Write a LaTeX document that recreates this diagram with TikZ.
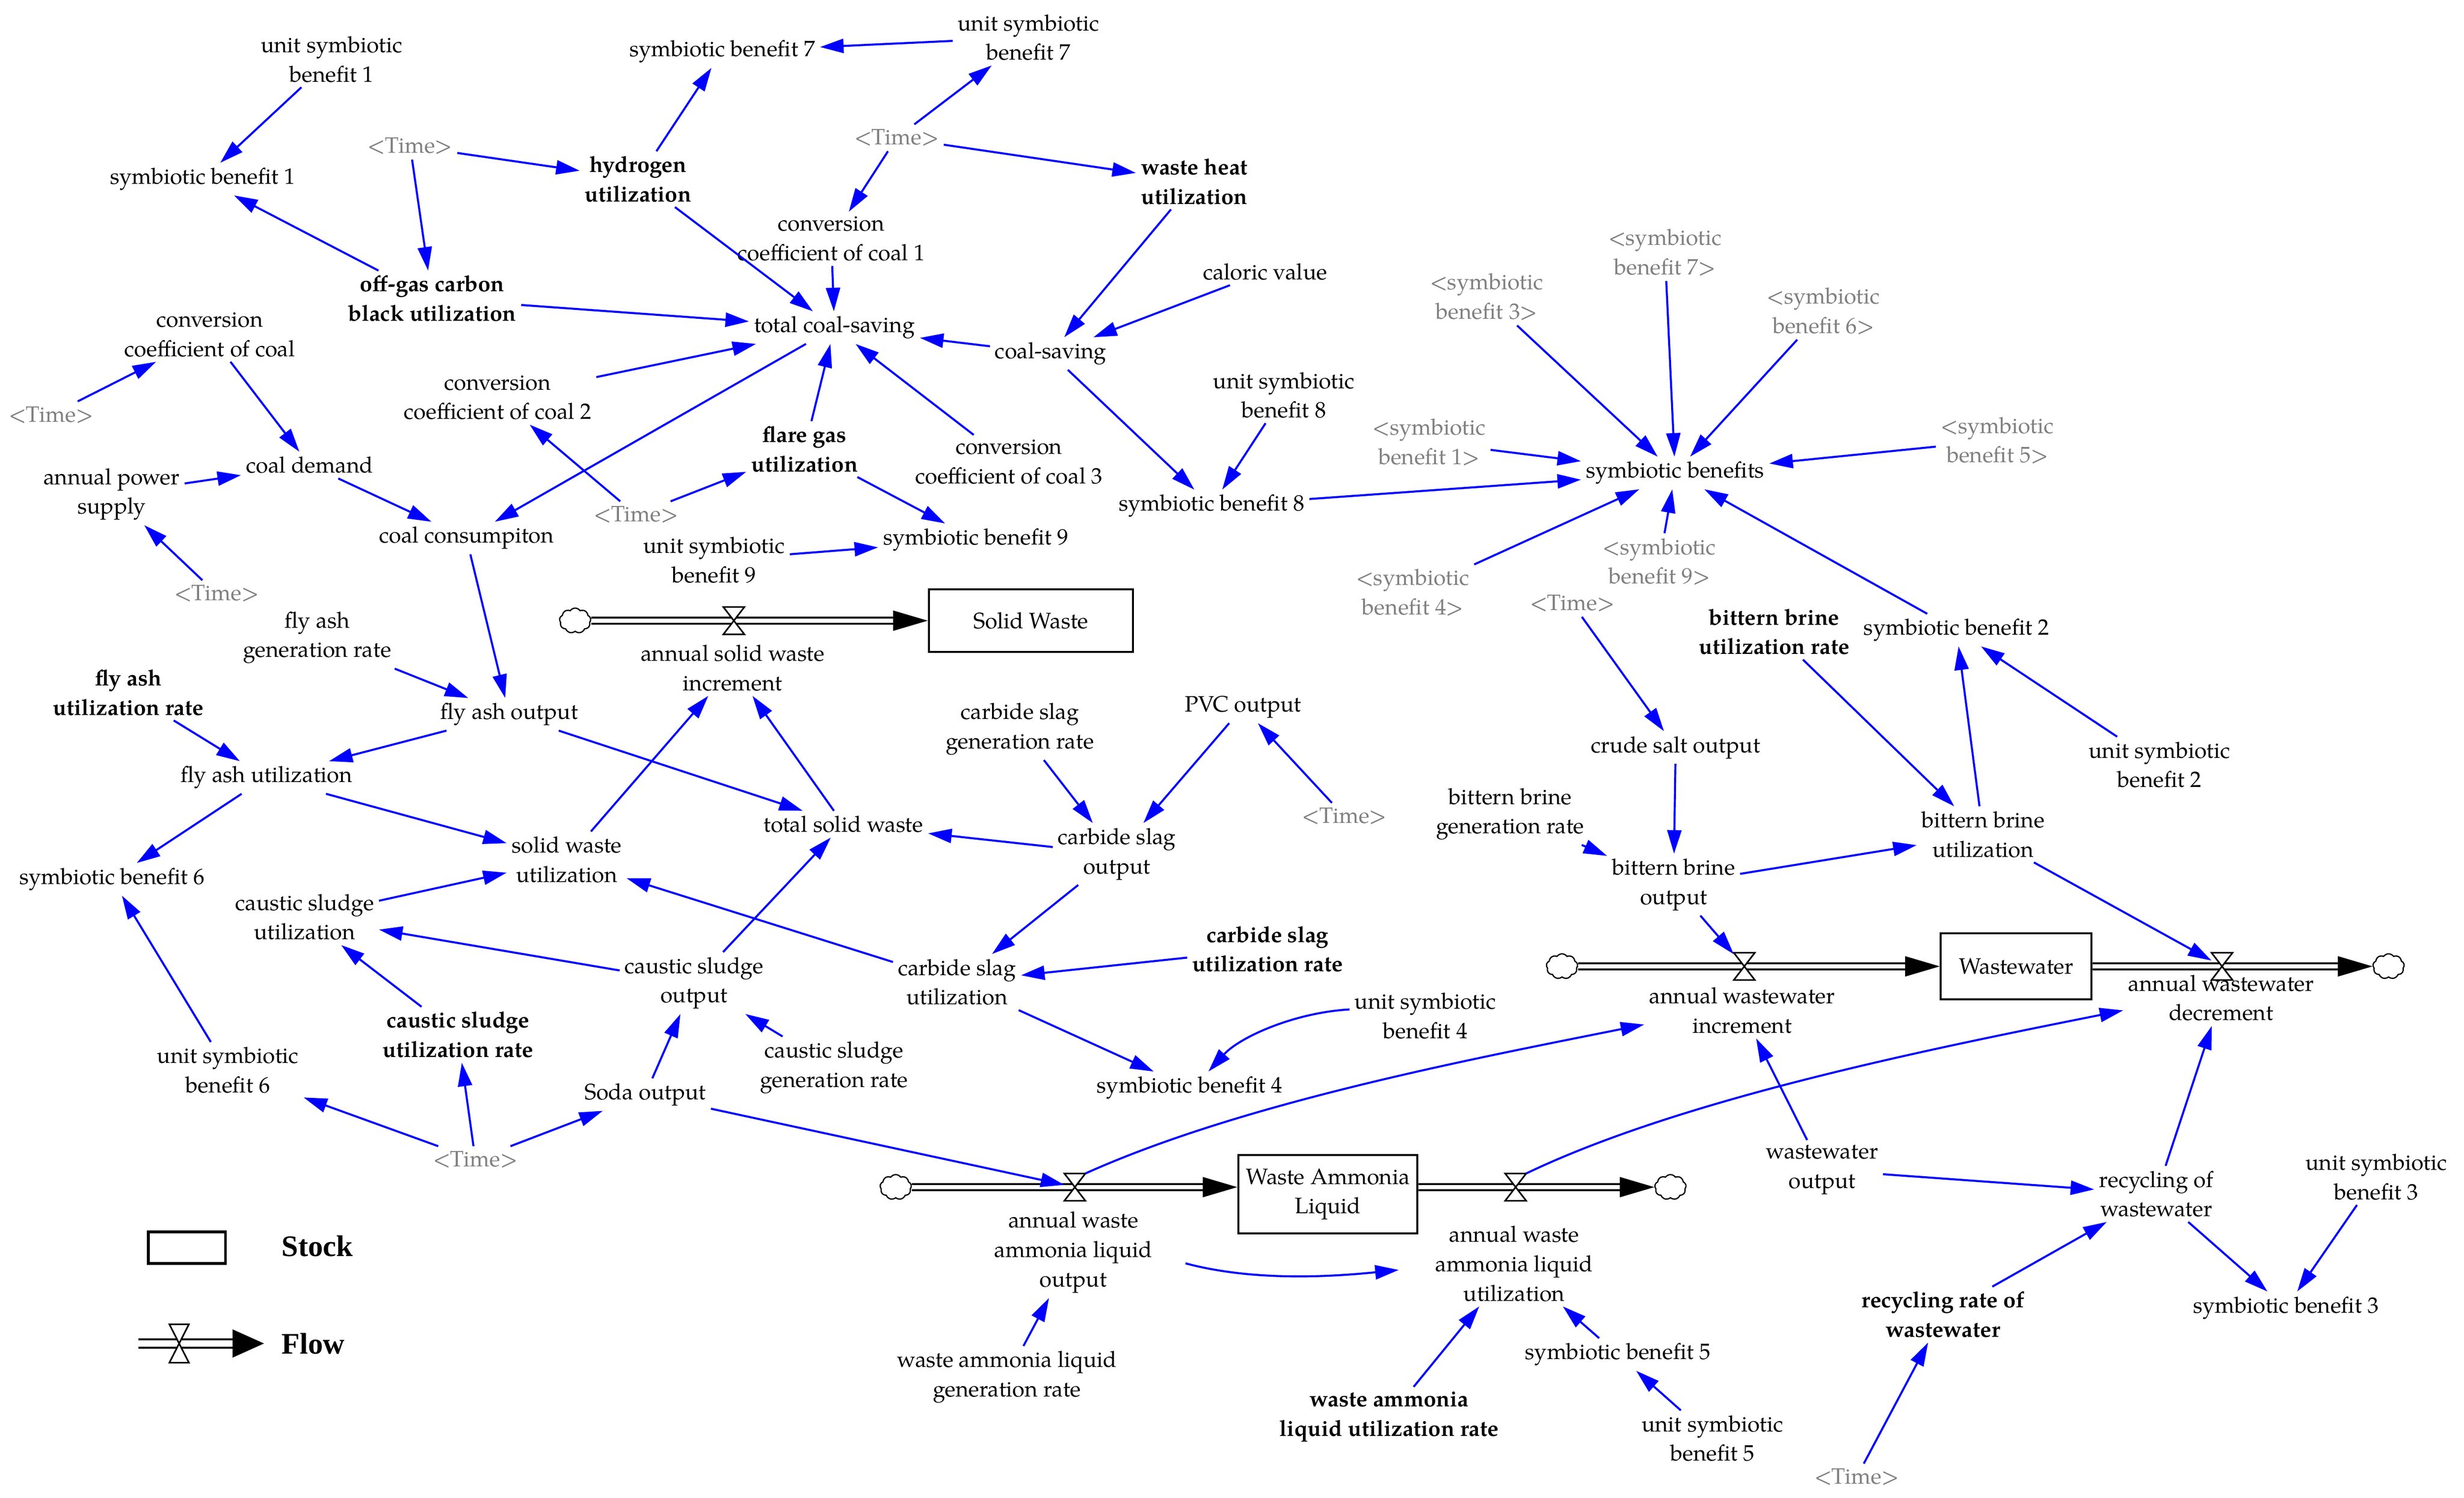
\documentclass[tikz,border=0pt]{standalone}
\usepackage{fontspec}
\setmainfont{TeX Gyre Pagella}
\newfontfamily\legendfont{Liberation Serif}
\usetikzlibrary{arrows.meta,shapes.symbols,calc}
\definecolor{linkblue}{RGB}{0,0,255}
\definecolor{shadowgray}{RGB}{128,128,128}
\newcommand\sdvalve[1]{\draw[line width=1pt,fill=white] (#1.north west) -- (#1.north east) -- (#1.south west) -- (#1.south east) -- cycle;}
\begin{document}
\begin{tikzpicture}[x=1pt,y=-1pt,
  var/.style={font=\fontsize{14.2}{18.7}\selectfont, align=center, inner sep=3pt},
  bvar/.style={var, font=\fontsize{14.2}{18.7}\selectfont\bfseries},
  gvar/.style={var, text=shadowgray},
  link/.style={draw=linkblue, line width=1.3pt, -{Triangle[length=15pt,width=9pt]}},
  stock/.style={draw, line width=1.3pt, font=\fontsize{14.2}{18.7}\selectfont, align=center, inner sep=0pt},
  pipe/.style={draw, double, line width=1.2pt, double distance=2.7pt},
  valve/.style={minimum width=13pt, minimum height=17pt, inner sep=0pt},
  sdcloud/.style={cloud, cloud puffs=9, cloud puff arc=110, cloud ignores aspect, draw, line width=0.8pt, minimum width=20pt, minimum height=16pt, inner sep=0pt},
]
\useasboundingbox (0,0) rectangle (1568,953.2);
\fill[white] (0,0) rectangle (1568,953.2);

% ---------- variables ----------
\node[var] (usb1) at (211,37.7) {unit symbiotic\\benefit 1};
\node[var] (sb1) at (129,114) {symbiotic benefit 1};
\node[gvar] (tA) at (261,93) {<Time>};
\node[bvar] (hyd) at (406,114) {hydrogen\\utilization};
\node[var] (sb7) at (459.6,32.8) {symbiotic benefit 7};
\node[var] (usb7) at (654.5,23.8) {unit symbiotic\\benefit 7};
\node[gvar] (tB) at (570.6,87.7) {<Time>};
\node[bvar] (wh) at (760,115.5) {waste heat\\utilization};
\node[var] (cc1) at (529,152) {conversion\\coefficient of coal 1};
\node[bvar] (og) at (275,190) {off-gas carbon\\black utilization};
\node[var] (tcs) at (531,208.5) {total coal-saving};
\node[var] (cc) at (133.5,213) {conversion\\coefficient of coal};
\node[gvar] (tC) at (32.5,264) {<Time>};
\node[var] (cal) at (805,173) {caloric value};
\node[var] (cs) at (668.6,225) {coal-saving};
\node[var] (cc2) at (316.7,253) {conversion\\coefficient of coal 2};
\node[bvar] (fg) at (512,285.8) {flare gas\\utilization};
\node[var] (cc3) at (642,294) {conversion\\coefficient of coal 3};
\node[var] (usb8) at (817,251.5) {unit symbiotic\\benefit 8};
\node[var] (sb8) at (771,322) {symbiotic benefit 8};
\node[var] (cd) at (197,296) {coal demand};
\node[var] (ap) at (71,314.5) {annual power\\supply};
\node[gvar] (tD) at (404.8,327.6) {<Time>};
\node[var] (ccons) at (296.8,342.4) {coal consumpiton};
\node[var] (usb9) at (454.4,356.5) {unit symbiotic\\benefit 9};
\node[var] (sb9) at (621,343.5) {symbiotic benefit 9};
\node[gvar] (tE) at (137.8,377.8) {<Time>};
\node[var] (fagr) at (201.8,405.8) {fly ash\\generation rate};
\node[bvar] (faur) at (81.7,440.7) {fly ash\\utilization rate};
\node[var] (fao) at (324,454.6) {fly ash output};
\node[var] (fau) at (169.5,494.8) {fly ash utilization};
\node[var] (sb6) at (71.3,559.6) {symbiotic benefit 6};
\node[var] (ksu) at (193.9,583.6) {caustic sludge\\utilization};
\node[bvar] (ksur) at (291.4,658.5) {caustic sludge\\utilization rate};
\node[var] (usb6) at (145,681) {unit symbiotic\\benefit 6};
\node[gvar] (tG) at (302.5,738) {<Time>};
\node[var] (lSW) at (466.2,425) {annual solid waste\\increment};
\node[var] (cbgr) at (649,464) {carbide slag\\generation rate};
\node[var] (pvc) at (791,450) {PVC output};
\node[gvar] (tF) at (855.5,519.5) {<Time>};
\node[var] (tsw) at (536.7,524.5) {total solid waste};
\node[var] (cbo) at (710.7,543.5) {carbide slag\\output};
\node[var] (swu) at (360.6,547) {solid waste\\utilization};
\node[var] (cbu) at (609,625) {carbide slag\\utilization};
\node[bvar] (cbur) at (806.6,604) {carbide slag\\utilization rate};
\node[var] (kso) at (441.6,625.6) {caustic sludge\\output};
\node[var] (ksgr) at (530.7,679.3) {caustic sludge\\generation rate};
\node[var] (soda) at (410.6,696.6) {Soda output};
\node[var] (sb4) at (757,692.3) {symbiotic benefit 4};
\node[var] (usb4) at (907,646.4) {unit symbiotic\\benefit 4};
\node[var] (lWA) at (683,797) {annual waste\\ammonia liquid\\output};
\node[var] (lWB) at (963.5,804.2) {annual waste\\ammonia liquid\\utilization};
\node[var] (walgr) at (640.8,876.3) {waste ammonia liquid\\generation rate};
\node[bvar] (walur) at (884,901.7) {waste ammonia\\liquid utilization rate};
\node[var] (sb5) at (1029.5,862) {symbiotic benefit 5};
\node[var] (usb5) at (1089.7,915.4) {unit symbiotic\\benefit 5};

\node[gvar] (r3) at (946,189) {<symbiotic\\benefit 3>};
\node[gvar] (r7) at (1059.5,160.7) {<symbiotic\\benefit 7>};
\node[gvar] (r6) at (1160.3,198) {<symbiotic\\benefit 6>};
\node[gvar] (r1) at (909.4,281.4) {<symbiotic\\benefit 1>};
\node[var] (sbs) at (1066,301) {symbiotic benefits};
\node[gvar] (r5) at (1271,280.3) {<symbiotic\\benefit 5>};
\node[gvar] (r4) at (899,377) {<symbiotic\\benefit 4>};
\node[gvar] (r9) at (1056,357.5) {<symbiotic\\benefit 9>};
\node[gvar] (tH) at (1000.5,384) {<Time>};
\node[bvar] (bbur) at (1129,402) {bittern brine\\utilization rate};
\node[var] (sb2) at (1245,401) {symbiotic benefit 2};
\node[var] (crude) at (1066.3,475.7) {crude salt output};
\node[var] (usb2) at (1374.2,486.7) {unit symbiotic\\benefit 2};
\node[var] (bbgr) at (961,518) {bittern brine\\generation rate};
\node[var] (bbu) at (1262,531) {bittern brine\\utilization};
\node[var] (bbo) at (1065,563) {bittern brine\\output};
\node[var] (lWWA) at (1108.6,643) {annual wastewater\\increment};
\node[var] (lWWB) at (1413.4,635) {annual wastewater\\decrement};
\node[var] (wwo) at (1159.5,744.5) {wastewater\\output};
\node[var] (row) at (1372.2,759.8) {recycling of\\wastewater};
\node[var] (usb3) at (1512.2,749) {unit symbiotic\\benefit 3};
\node[var] (sb3) at (1454.7,832.3) {symbiotic benefit 3};
\node[bvar] (rrw) at (1236.4,836.6) {recycling rate of\\wastewater};
\node[gvar] (tI) at (1181.5,940) {<Time>};

% ---------- stocks, clouds, valves ----------
\node[stock, minimum width=130pt, minimum height=40pt] (sw) at (656,395) {Solid Waste};
\node[stock, minimum width=96pt, minimum height=42pt] (ww) at (1283,615) {Wastewater};
\node[stock, minimum width=114pt, minimum height=50pt] (wal) at (845,760) {Waste Ammonia\\Liquid};

\node[sdcloud] (cSW) at (366,395) {};
\node[sdcloud] (cWW1) at (994,615) {};
\node[sdcloud] (cWW2) at (1520,615) {};
\node[sdcloud] (cWA) at (570,755.5) {};
\node[sdcloud] (cWB) at (1063,755.5) {};

\node[valve] (vSW) at (467,395) {};
\node[valve] (vWW1) at (1110,615) {};
\node[valve] (vWW2) at (1414,615) {};
\node[valve] (vWA) at (684,755.5) {};
\node[valve] (vWB) at (964.5,755.5) {};

% pipes
\draw[pipe] (cSW.east) -- ($(sw.west)+(-20,0)$);
\fill (sw.west) -- ++(-22,-6.5) -- ++(0,13) -- cycle;
\draw[pipe] (cWW1.east) -- ($(ww.west)+(-20,0)$);
\fill (ww.west) -- ++(-22,-6.5) -- ++(0,13) -- cycle;
\draw[pipe] (ww.east) -- ($(cWW2.west)+(-20,0)$);
\fill (cWW2.west) -- ++(-22,-6.5) -- ++(0,13) -- cycle;
\draw[pipe] (cWA.east) -- ($(wal.west|-vWA)+(-20,0)$);
\fill (wal.west|-vWA) -- ++(-22,-6.5) -- ++(0,13) -- cycle;
\draw[pipe] (wal.east|-vWB) -- ($(cWB.west)+(-20,0)$);
\fill (cWB.west) -- ++(-22,-6.5) -- ++(0,13) -- cycle;

\sdvalve{vSW}
\sdvalve{vWW1}
\sdvalve{vWW2}
\sdvalve{vWA}
\sdvalve{vWB}

% ---------- links ----------
\draw[link] (usb1) -- (sb1);
\draw[link] (og) -- (sb1);
\draw[link] (tA) -- (hyd);
\draw[link] (tA) -- (og);
\draw[link] (hyd) -- (sb7);
\draw[link] (usb7) -- (sb7);
\draw[link] (tB) -- (usb7);
\draw[link] (tB) -- (cc1);
\draw[link] (tB) -- (wh);
\draw[link] (hyd) -- (tcs);
\draw[link] (cc1) -- (tcs);
\draw[link] (og) -- (tcs);
\draw[link] (cc2) -- (tcs);
\draw[link] (fg) -- (tcs);
\draw[link] (cc3) -- (tcs);
\draw[link] (cs) -- (tcs);
\draw[link] (wh) -- (cs);
\draw[link] (cal) -- (cs);
\draw[link] (cs) -- (sb8);
\draw[link] (usb8) -- (sb8);
\draw[link] (sb8) -- (sbs);
\draw[link] (tcs) -- (ccons);
\draw[link] (tD) -- (cc2);
\draw[link] (tD) -- (fg);
\draw[link] (fg) -- (sb9);
\draw[link] (usb9) -- (sb9);
\draw[link] (tC) -- (cc);
\draw[link] (cc) -- (cd);
\draw[link] (ap) -- (cd);
\draw[link] (cd) -- (ccons);
\draw[link] (tE) -- (ap);
\draw[link] (ccons) -- (fao);
\draw[link] (fagr) -- (fao);
\draw[link] (fao) -- (fau);
\draw[link] (faur) -- (fau);
\draw[link] (fao) -- (tsw);
\draw[link] (fau) -- (swu);
\draw[link] (fau) -- (sb6);
\draw[link] (usb6) -- (sb6);
\draw[link] (swu) -- (lSW);
\draw[link] (tsw) -- (lSW);
\draw[link] (cbgr) -- (cbo);
\draw[link] (pvc) -- (cbo);
\draw[link] (tF) -- (pvc);
\draw[link] (cbo) -- (tsw);
\draw[link] (cbo) -- (cbu);
\draw[link] (cbur) -- (cbu);
\draw[link] (cbu) -- (swu);
\draw[link] (ksu) -- (swu);
\draw[link] (kso) -- (tsw);
\draw[link] (kso) -- (ksu);
\draw[link] (ksur) -- (ksu);
\draw[link] (ksgr) -- (kso);
\draw[link] (soda) -- (kso);
\draw[link] (tG) -- (soda);
\draw[link] (tG) -- (ksur);
\draw[link] (tG) -- (usb6);
\draw[link] (cbu) -- (sb4);
\draw[link] ([yshift=4pt]usb4.west) .. controls +(-35,2) and +(20,-22) .. ([xshift=12pt]sb4.north);
\draw[link] (soda) -- (vWA);
\draw[link] (walgr) -- (lWA);
\draw[link] (walur) -- (lWB);
\draw[link] (sb5) -- (lWB);
\draw[link] (usb5) -- (sb5);
\draw[link] ([shift={(18pt,-7pt)}]lWA.east) .. controls +(45,12) and +(-40,4) .. ([xshift=-20pt,yshift=-4pt]lWB.west);
\draw[link] (vWA.north east) .. controls +(100,-45) and +(-110,22) .. ([yshift=-9pt]lWWA.west);
\draw[link] (vWB.north east) .. controls +(100,-48) and +(-120,24) .. ([yshift=-8pt]lWWB.west);

\draw[link] (r3) -- (sbs);
\draw[link] (r7) -- (sbs);
\draw[link] (r6) -- (sbs);
\draw[link] (r1) -- (sbs);
\draw[link] (r5) -- (sbs);
\draw[link] (r4) -- (sbs);
\draw[link] (r9) -- (sbs);
\draw[link] (sb2) -- (sbs);
\draw[link] (tH) -- (crude);
\draw[link] (crude) -- (bbo);
\draw[link] (bbgr) -- (bbo);
\draw[link] (bbo) -- (bbu);
\draw[link] (bbur) -- (bbu);
\draw[link] (bbu) -- (sb2);
\draw[link] (usb2) -- (sb2);
\draw[link] (bbu) -- (vWW2);
\draw[link] (bbo) -- (vWW1);
\draw[link] (wwo) -- (lWWA);
\draw[link] (wwo) -- (row);
\draw[link] (row) -- (lWWB);
\draw[link] (rrw) -- (row);
\draw[link] (tI) -- (rrw);
\draw[link] (row) -- (sb3);
\draw[link] (usb3) -- (sb3);

% ---------- legend ----------
\node[draw, line width=1.8pt, minimum width=49pt, minimum height=20pt, inner sep=0pt] (legstock) at (119,794) {};
\node[font=\legendfont\bfseries\fontsize{19}{22}\selectfont, anchor=west, inner sep=0pt] (legstocktext) at (179,793) {Stock};
\coordinate (legA) at (88,855);
\coordinate (legB) at (168,855);
\node[minimum width=12pt, minimum height=24pt, inner sep=0pt] (legvalve) at (114,855) {};
\draw[draw, double, line width=1.2pt, double distance=4pt] (legA) -- ($(legB)+(-18,0)$);
\fill (legB) -- ++(-20,-9) -- ++(0,18) -- cycle;
\sdvalve{legvalve}
\node[font=\legendfont\bfseries\fontsize{19}{22}\selectfont, anchor=west, inner sep=0pt] (legflowtext) at (179,855) {Flow};
\end{tikzpicture}
\end{document}
